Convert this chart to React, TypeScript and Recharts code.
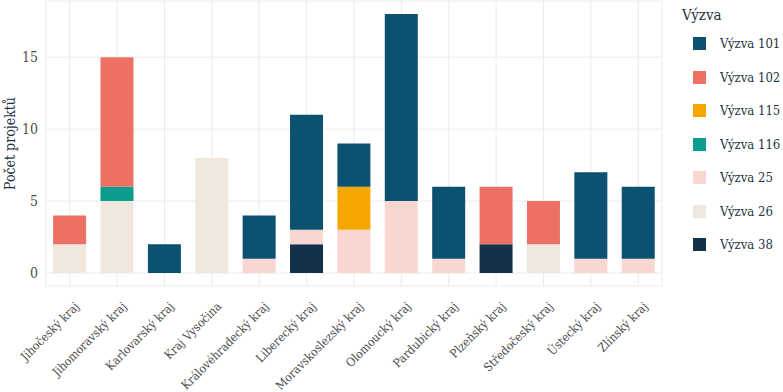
import { BarChart, Bar, XAxis, YAxis, CartesianGrid } from 'recharts';

const kraje = [
  'Jihočeský kraj',
  'Jihomoravský kraj',
  'Karlovarský kraj',
  'Kraj Vysočina',
  'Královéhradecký kraj',
  'Liberecký kraj',
  'Moravskoslezský kraj',
  'Olomoucký kraj',
  'Pardubický kraj',
  'Plzeňský kraj',
  'Středočeský kraj',
  'Ústecký kraj',
  'Zlínský kraj',
];

const vyzva101 = [0, 0, 2, 0, 3, 8, 3, 13, 5, 0, 0, 6, 5];
const vyzva102 = [2, 9, 0, 0, 0, 0, 0, 0, 0, 4, 3, 0, 0];
const vyzva115 = [0, 0, 0, 0, 0, 0, 3, 0, 0, 0, 0, 0, 0];
const vyzva116 = [0, 1, 0, 0, 0, 0, 0, 0, 0, 0, 0, 0, 0];
const vyzva25 = [0, 0, 0, 0, 1, 1, 3, 5, 1, 0, 0, 1, 1];
const vyzva26 = [2, 5, 0, 8, 0, 0, 0, 0, 0, 0, 2, 0, 0];
const vyzva38 = [0, 0, 0, 0, 0, 2, 0, 0, 0, 2, 0, 0, 0];

const yTicks = [0, 5, 10, 15];

// legend order (top → bottom); stacking goes the other way
const series = [
  { key: 'Výzva 101', values: vyzva101, color: '#0b5170' },
  { key: 'Výzva 102', values: vyzva102, color: '#ec7063' },
  { key: 'Výzva 115', values: vyzva115, color: '#f5a700' },
  { key: 'Výzva 116', values: vyzva116, color: '#0a9c8c' },
  { key: 'Výzva 25', values: vyzva25, color: '#fad6d1' },
  { key: 'Výzva 26', values: vyzva26, color: '#f0e8dc' },
  { key: 'Výzva 38', values: vyzva38, color: '#11324a' },
];

const data = kraje.map((kraj, i) => {
  const row: Record<string, string | number> = { kraj };
  series.forEach((s) => {
    row[s.key] = s.values[i];
  });
  return row;
});

const textStyle = { fontFamily: "'DejaVu Serif'", fontStretch: 'condensed' };

function KrajTick({ x, y, payload }: any) {
  return (
    <text
      x={x + 4}
      y={y + 7}
      transform={`rotate(-45, ${x + 4}, ${y + 7})`}
      textAnchor="end"
      dominantBaseline="hanging"
      fontSize={12}
      style={textStyle}
      fill="#4d4d4d"
    >
      {payload.value}
    </text>
  );
}

function YTitle({ viewBox }: any) {
  const cy = viewBox.y + viewBox.height / 2;
  return (
    <text
      x={15}
      y={cy}
      transform={`rotate(-90, 15, ${cy})`}
      textAnchor="middle"
      fontSize={14}
      style={textStyle}
      fill="#1f3344"
    >
      Počet projektů
    </text>
  );
}

function VyzvaLegend() {
  return (
    <div
      style={{
        position: 'absolute',
        left: 682,
        top: 6,
        width: 101,
        whiteSpace: 'nowrap',
        ...textStyle,
        color: '#1f3344',
      }}
    >
      <div style={{ fontSize: 15, marginBottom: 3 }}>Výzva</div>
      {series.map((s) => (
        <div
          key={s.key}
          style={{ display: 'flex', alignItems: 'center', height: 33.5, paddingLeft: 11 }}
        >
          <span
            style={{ width: 13, height: 13, background: s.color, display: 'inline-block', marginRight: 14, flexShrink: 0 }}
          />
          <span style={{ fontSize: 13 }}>{s.key}</span>
        </div>
      ))}
    </div>
  );
}

export default function App() {
  return (
    <div style={{ position: 'absolute', left: 0, top: 0, width: 783, height: 392, background: '#fff' }}>
      <BarChart
        width={783}
        height={392}
        data={data}
        margin={{ top: 1, right: 121, bottom: 0, left: 0 }}
        barCategoryGap="15%"
      >
        <CartesianGrid stroke="#ebebeb" strokeWidth={1} />
        <XAxis
          dataKey="kraj"
          interval={0}
          height={106}
          tickLine={false}
          axisLine={false}
          tick={<KrajTick />}
        />
        <YAxis
          width={46}
          domain={[-0.9, 18.9]}
          ticks={yTicks}
          tickLine={false}
          axisLine={false}
          tick={{ fontSize: 14, style: textStyle, fill: '#4d4d4d' }}
          tickMargin={2}
          label={<YTitle />}
        />
        {[...series].reverse().map((s) => (
          <Bar
            key={s.key}
            dataKey={s.key}
            stackId="a"
            fill={s.color}
            isAnimationActive={false}
          />
        ))}
      </BarChart>
      <VyzvaLegend />
    </div>
  );
}
